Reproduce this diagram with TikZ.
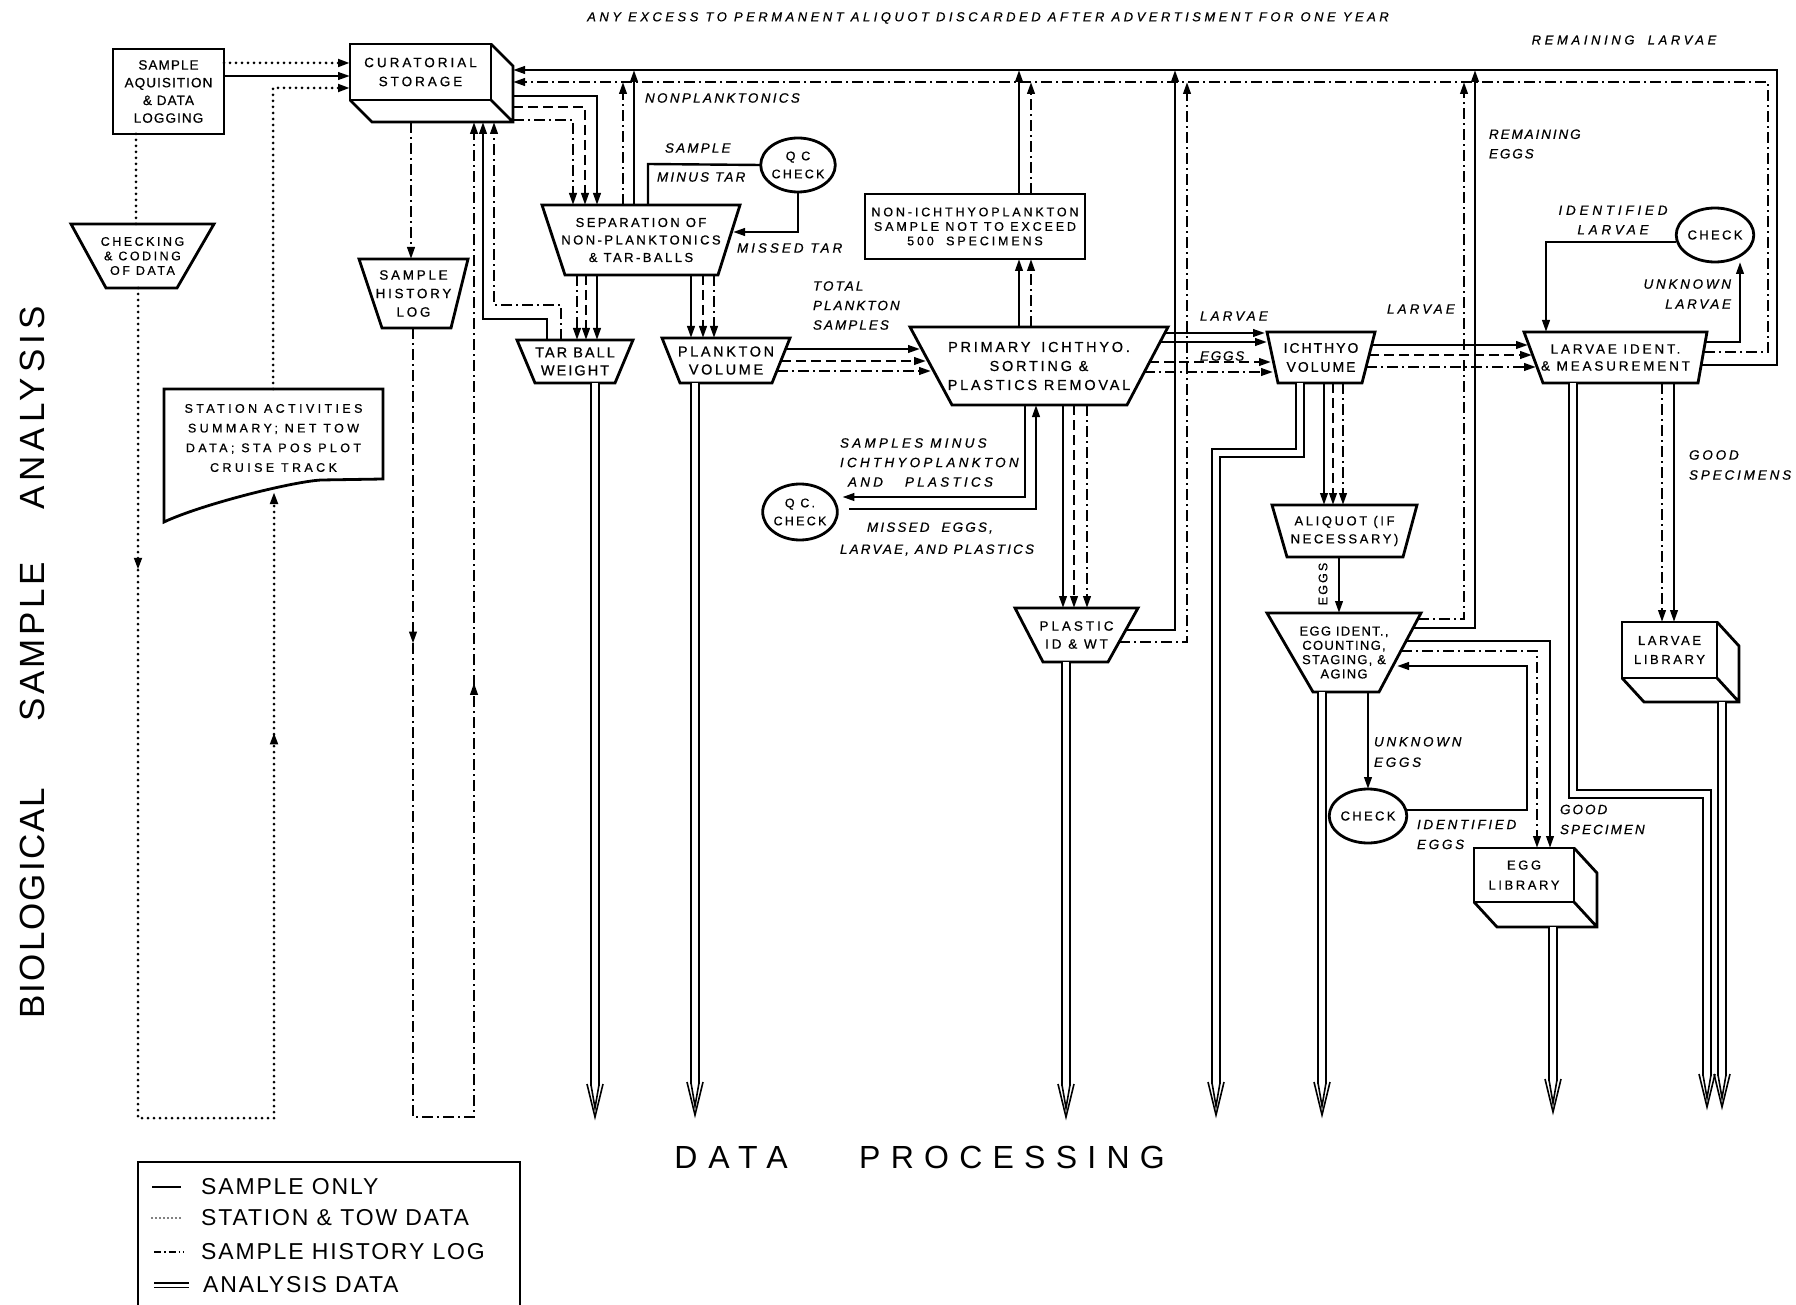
\documentclass[tikz,border=0pt]{standalone}
\usepackage{fontspec}
\setmainfont{Liberation Sans}
\newfontfamily\lfont{Liberation Sans}
\usetikzlibrary{arrows.meta,decorations.markings,shapes.geometric,calc}

% letter spacing for the stencil-like lettering
\newcommand\ls[1]{\addfontfeature{LetterSpace=#1}}
% slightly heavier stroke for the small lettering
\newcommand\lsb[1]{\addfontfeatures{LetterSpace=#1,FakeBold=0.6}}

% wide-topped process box: border drawn from the node's corners
\newcommand\trap[3]{\draw[border] (#1.north west) -- (#1.north east)
  -- ([xshift=-#3pt]#1.south east) -- ([xshift=#2pt]#1.south west) -- cycle;}
% storage block: front face is the node, depth drawn down and to the right
\newcommand\cube[3]{\draw[border] (#1.north east) -- ++(#2,#3)
  -- ([shift={(#2,#3)}]#1.south east) -- ([shift={(#2,#3)}]#1.south west)
  -- (#1.south west) (#1.south east) -- ++(#2,#3);}

\begin{document}
\begin{tikzpicture}[
  x=1pt, y=-1pt,
  every node/.style={inner sep=0pt, outer sep=0pt},
  bx/.style n args={3}{font=\lfont\fontsize{#1}{#2}\selectfont\lsb{#3}, align=center},
  fl/.style n args={3}{font=\lfont\itshape\fontsize{#1}{#2}\selectfont\lsb{#3}, align=left},
  border/.style={line width=2.8pt, line join=miter},
  smp/.style={line width=2.4pt},
  stn/.style={line width=3pt, line cap=round, dash pattern=on 0pt off 6pt},
  hst/.style={line width=2.4pt, dash pattern=on 11pt off 4pt on 2pt off 4pt},
  dsh/.style={line width=2.4pt, dash pattern=on 10pt off 5pt},
  ana/.style={line width=1.6pt, double distance=6pt},
  tip/.style={-{Triangle[length=12pt,width=7.5pt]}},
  midtip/.style={postaction={decorate, decoration={markings,
      mark=at position #1 with {\arrow{Triangle[length=12pt,width=7.5pt]}}}}},
  anahead/.pic={
    \draw[line width=1.6pt, line join=miter] (-8,-33) -- (0,0) -- (8,-33);
    \draw[line width=1.6pt] (-3.8,-31) -- (0,-9) -- (3.8,-31);
  },
]
\useasboundingbox (0,0) rectangle (1796,1305);
\fill[white] (0,0) rectangle (1796,1305);

% ---------------- boxes ----------------
\node[draw, border, bx={13.5}{17.7}{8}, minimum width=111pt, minimum height=85pt]
  (acq) at (168.5,91.5) {SAMPLE\\AQUISITION\\\& DATA\\LOGGING};

\node[draw, border, bx={13.5}{19}{22}, minimum width=141pt, minimum height=56pt]
  (cur) at (420.5,72) {CURATORIAL\\STORAGE};
\cube{cur}{22}{22}
\coordinate (cur-b) at ([shift={(22,22)}]cur.south);
\coordinate (cur-se) at ([shift={(22,22)}]cur.south east);

\node[bx={12.5}{14.5}{20}, minimum width=143pt, minimum height=64pt]
  (chk) at (142.5,256) {CHECKING\\\& CODING\\OF DATA};
\trap{chk}{35}{37}

\node[bx={13.5}{18.5}{20}, minimum width=109pt, minimum height=69pt]
  (hist) at (413.5,293.5) {SAMPLE\\HISTORY\\LOG};
\trap{hist}{23}{17}

\node[bx={12.5}{19.7}{27}, minimum width=219pt, minimum height=98pt]
  (stat) at (273.5,438) {STATION ACTIVITIES\\SUMMARY; NET TOW\\DATA; STA POS PLOT\\CRUISE TRACK};
\draw[border] (stat.north west) -- (stat.north east) -- (383,479) -- (321,480)
  .. controls (290,482) and (200,505) .. (164,522) -- cycle;
\coordinate (stat-in) at (274,492);

\node[bx={13}{17.5}{19}, minimum width=198pt, minimum height=70pt]
  (sep) at (641,240) {SEPARATION OF\\NON-PLANKTONICS\\\& TAR-BALLS};
\trap{sep}{23}{22}

\node[draw, border, ellipse, bx={12.5}{18}{18}, minimum width=72pt, minimum height=54pt]
  (qc1) at (798,165) {Q C\\CHECK};

\node[bx={14.5}{18}{14}, minimum width=116pt, minimum height=43pt]
  (tar) at (575,361.5) {TAR BALL\\WEIGHT};
\trap{tar}{18}{18}

\node[bx={14.5}{18}{18}, minimum width=128pt, minimum height=45pt]
  (plk) at (726,360.5) {PLANKTON\\VOLUME};
\trap{plk}{18}{18}

\node[draw, border, bx={12.5}{14.5}{23}, minimum width=220pt, minimum height=65pt]
  (non) at (975,226.5) {NON-ICHTHYOPLANKTON\\SAMPLE NOT TO EXCEED\\500\hspace{6pt} SPECIMENS};

\node[bx={14.5}{19}{19}, minimum width=258pt, minimum height=78pt]
  (prim) at (1039,366) {PRIMARY\hspace{4pt} ICHTHYO.\\SORTING \&\\PLASTICS REMOVAL};
\trap{prim}{42}{41}

\node[draw, border, ellipse, bx={12.5}{18}{18}, minimum width=74pt, minimum height=56pt]
  (qc2) at (800,512) {Q C.\\CHECK};

\node[bx={13.5}{18}{22}, minimum width=123pt, minimum height=54pt]
  (plas) at (1076.5,635) {PLASTIC\\ID \& WT};
\trap{plas}{28}{30}

\node[bx={14}{19}{14}, minimum width=108pt, minimum height=51pt]
  (ich) at (1321,357.5) {ICHTHYO\\VOLUME};
\trap{ich}{11}{13}

\node[bx={13.5}{17}{21}, minimum width=183pt, minimum height=51pt]
  (lar) at (1615.5,357.5) {LARVAE IDENT.\\\& MEASUREMENT};
\trap{lar}{19}{9}

\node[draw, border, ellipse, bx={13}{18}{18}, minimum width=74pt, minimum height=54pt]
  (chkL) at (1715,235) {CHECK};

\node[bx={13}{18}{20}, minimum width=145pt, minimum height=52pt]
  (ali) at (1344.5,531) {ALIQUOT (IF\\NECESSARY)};
\trap{ali}{15}{14}

\node[bx={13}{14.3}{10}, minimum width=154pt, minimum height=79pt]
  (egg) at (1344,652.5) {EGG IDENT.,\\COUNTING,\\STAGING, \&\\AGING};
\trap{egg}{46}{42}

\node[draw, border, ellipse, bx={13}{18}{18}, minimum width=74pt, minimum height=54pt]
  (chkE) at (1368,816) {CHECK};

\node[draw, border, bx={13}{19}{20}, minimum width=95pt, minimum height=56pt]
  (llib) at (1669.5,650) {LARVAE\\LIBRARY};
\cube{llib}{22}{24}
\coordinate (llib-b) at ([shift={(22,24)}]llib.south);

\node[draw, border, bx={13}{20}{20}, minimum width=100pt, minimum height=54pt]
  (elib) at (1524,875) {EGG\\LIBRARY};
\cube{elib}{23}{25}
\coordinate (elib-b) at ([shift={(23,25)}]elib.south);

% tops of the return risers on the two long lines back to storage
\coordinate (ts1) at (634,70);   \coordinate (td1) at (623,82);
\coordinate (ts2) at (1019,70);  \coordinate (td2) at (1031,82);
\coordinate (ts3) at (1175,70);  \coordinate (td3) at (1187,82);
\coordinate (ts4) at (1475,70);  \coordinate (td4) at (1464,82);

% ---------------- station & tow data ----------------
\draw[stn,tip] (acq.east |- 0,63) -- (cur.west |- 0,63);
\draw[stn,tip] (stat.north -| 273,0) -- (273,88) -- (cur.west |- 0,88);
\draw[stn] (acq.south -| 136,0) -- (chk.north -| 136,0);
\draw[stn,tip,midtip=0.177,midtip=0.849] (chk.south -| 138,0) -- (138,1118) -- (274,1118) -- (stat-in);

% ---------------- sample history log loop ----------------
\draw[hst,tip] (cur-b -| 411,0) -- (hist.north -| 411,0);
\draw[hst,tip,midtip=0.171,midtip=0.696] (hist.south -| 413,0) -- (413,1117) -- (474,1117) -- (cur-b -| 474,0);

% ---------------- storage and separation ----------------
\draw[smp,tip] (acq.east |- 0,76) -- (cur.west |- 0,76);
\draw[smp,tip] (cur-se |- 0,96) -- (597,96) -- (sep.north -| 597,0);
\draw[dsh,tip] (cur-se |- 0,107) -- (585,107) -- (sep.north -| 585,0);
\draw[hst,tip] (cur-se |- 0,120) -- (573,120) -- (sep.north -| 573,0);
\draw[smp,tip] (tar.north -| 547,0) -- (547,319) -- (483,319) -- (cur-b -| 483,0);
\draw[hst,tip] (tar.north -| 561,0) -- (561,305) -- (494,305) -- (cur-b -| 494,0);

% long return lines to storage
\draw[smp,tip] ($(lar.east |- 0,365)+(-6,0)$) -- (1777,365) -- (1777,70) -- (cur-se |- 0,70);
\draw[hst,tip] ($(lar.east |- 0,352)+(-3,0)$) -- (1768,352) -- (1768,82) -- (cur-se |- 0,82);
\draw[smp,tip] (sep.north -| ts1) -- (ts1);
\draw[hst,tip] (sep.north -| td1) -- (td1);
\draw[smp,tip] (non.north -| ts2) -- (ts2);
\draw[hst,tip] (non.north -| td2) -- (td2);
\draw[smp,tip] ($(plas.east |- 0,630)+(-12,0)$) -- (ts3 |- 0,630) -- (ts3);
\draw[hst,tip] ($(plas.east |- 0,642)+(-19,0)$) -- (td3 |- 0,642) -- (td3);
\draw[smp,tip] ($(egg.east |- 0,628)+(-8,0)$) -- (ts4 |- 0,628) -- (ts4);
\draw[hst,tip] ($(egg.east |- 0,619)+(-3,0)$) -- (td4 |- 0,619) -- (td4);

% tar check
\draw[smp] (sep.north -| 648,0) -- (648,164) -- (qc1.west);
\draw[smp,tip] (qc1.south) -- (qc1.south |- 0,232) -- ($(sep.east |- 0,232)+(-7,0)$);

% separation outputs
\draw[smp,tip] (sep.south -| 597,0) -- (tar.north -| 597,0);
\draw[dsh,tip] (sep.south -| 586,0) -- (tar.north -| 586,0);
\draw[hst,tip] (sep.south -| 577,0) -- (tar.north -| 577,0);
\draw[smp,tip] (sep.south -| 691,0) -- (plk.north -| 691,0);
\draw[dsh,tip] (sep.south -| 703,0) -- (plk.north -| 703,0);
\draw[hst,tip] (sep.south -| 714,0) -- (plk.north -| 714,0);

% plankton volume to primary sorting
\draw[smp,tip] ($(plk.east |- 0,349)+(-4,0)$) -- ($(prim.west |- 0,349)+(10,0)$);
\draw[dsh,tip] ($(plk.east |- 0,361)+(-9,0)$) -- ($(prim.west |- 0,361)+(16,0)$);
\draw[hst,tip] ($(plk.east |- 0,371)+(-13,0)$) -- ($(prim.west |- 0,371)+(21,0)$);

% primary sorting
\draw[smp,tip] (prim.north -| ts2) -- (non.south -| ts2);
\draw[hst,tip] (prim.north -| td2) -- (non.south -| td2);
\draw[smp,tip] (prim.south -| 1025,0) -- (1025,497) -- ($(qc2.east |- 0,497)+(5,0)$);
\draw[smp,tip] ($(qc2.east |- 0,509)+(12,0)$) -- (1036,509) -- (prim.south -| 1036,0);
\draw[smp,tip] (prim.south -| 1063,0) -- (plas.north -| 1063,0);
\draw[dsh,tip] (prim.south -| 1074,0) -- (plas.north -| 1074,0);
\draw[hst,tip] (prim.south -| 1087,0) -- (plas.north -| 1087,0);
\draw[smp,tip] ($(prim.east |- 0,333)+(-3,0)$) -- ($(ich.west |- 0,333)+(-2,0)$);
\draw[smp,tip] ($(prim.east |- 0,342)+(-8,0)$) -- (ich.west |- 0,342);
\draw[dsh,tip] ($(prim.east |- 0,362)+(-19,0)$) -- ($(ich.west |- 0,362)+(4,0)$);
\draw[hst,tip] ($(prim.east |- 0,372)+(-24,0)$) -- ($(ich.west |- 0,372)+(6,0)$);

% ichthyoplankton volume
\draw[smp,tip] ($(ich.east |- 0,345)+(-3,0)$) -- ($(lar.west |- 0,345)+(4,0)$);
\draw[dsh,tip] ($(ich.east |- 0,355)+(-6,0)$) -- ($(lar.west |- 0,355)+(8,0)$);
\draw[hst,tip] ($(ich.east |- 0,367)+(-9,0)$) -- ($(lar.west |- 0,367)+(12,0)$);
\draw[smp,tip] (ich.south -| 1324,0) -- (ali.north -| 1324,0);
\draw[dsh,tip] (ich.south -| 1333,0) -- (ali.north -| 1333,0);
\draw[hst,tip] (ich.south -| 1343,0) -- (ali.north -| 1343,0);

% eggs
\draw[smp,tip] (ali.south -| 1339,0) -- (egg.north -| 1339,0);
\draw[smp,tip] ($(egg.east |- 0,641)+(-15,0)$) -- (1550,641) -- (elib.north -| 1550,0);
\draw[hst,tip] ($(egg.east |- 0,651)+(-20,0)$) -- (1537,651) -- (elib.north -| 1537,0);
\draw[smp,tip] (egg.south -| chkE.north) -- (chkE.north);
\draw[smp,tip] (chkE.east |- 0,810) -- (1527,810) -- (1527,666) -- ($(egg.east |- 0,666)+(-24,0)$);

% larvae
\draw[smp,tip] ($(lar.east |- 0,342)+(-2,0)$) -- (1740,342) -- (chkL.south -| 1740,0);
\draw[smp,tip] (chkL.west |- 0,242) -- (1546,242) -- (lar.north -| 1546,0);
\draw[hst,tip] (lar.south -| 1662,0) -- (llib.north -| 1662,0);
\draw[smp,tip] (lar.south -| 1674,0) -- (llib.north -| 1674,0);

% ---------------- analysis data to processing ----------------
\draw[ana] (tar.south -| 595,0) -- (595,1086);
\pic at (595,1117) {anahead};
\draw[ana] (plk.south -| 695,0) -- (695,1084);
\pic at (695,1115) {anahead};
\draw[ana] (plas.south -| 1066,0) -- (1066,1086);
\pic at (1066,1117) {anahead};
\draw[ana] (ich.south -| 1300,0) -- (1300,453) -- (1216,453) -- (1216,1084);
\pic at (1216,1115) {anahead};
\draw[ana] (egg.south -| 1322,0) -- (1322,1084);
\pic at (1322,1115) {anahead};
\draw[ana] (elib-b -| 1553,0) -- (1553,1081);
\pic at (1553,1112) {anahead};
\draw[ana] (lar.south -| 1573,0) -- (1573,794) -- (1707,794) -- (1707,1076);
\pic at (1707,1107) {anahead};
\draw[ana] (llib-b -| 1722,0) -- (1722,1076);
\pic at (1722,1107) {anahead};

% ---------------- flow labels ----------------
\node[fl={13}{15}{27}] (l1) at (988,18) {ANY EXCESS TO PERMANENT ALIQUOT DISCARDED AFTER ADVERTISMENT FOR ONE YEAR};
\node[fl={13}{15}{28}] (l2) at (1624,40) {REMAINING\hspace{6pt} LARVAE};
\node[fl={13.5}{15}{17}, anchor=west] (l3) at (645,98) {NONPLANKTONICS};
\node[fl={13.5}{15}{16}, anchor=west] (l4) at (665,148) {SAMPLE};
\node[fl={13.5}{15}{16}, anchor=west] (l5) at (657,177) {MINUS TAR};
\node[fl={13.5}{15}{22}, anchor=west] (l6) at (737,248) {MISSED TAR};
\node[fl={13.5}{19.5}{15}, anchor=west] (l7) at (813,305.5) {TOTAL\\PLANKTON\\SAMPLES};
\node[fl={13.5}{19.5}{24}, anchor=west] (l8) at (840,462.5)
  {SAMPLES MINUS\\ICHTHYOPLANKTON\\\hspace*{8pt}AND\hspace{22pt}PLASTICS};
\node[fl={13.5}{22}{16}, anchor=west] (l9) at (840,539)
  {\hspace*{27pt}MISSED\hspace{6pt} EGGS,\\LARVAE, AND PLASTICS};
\node[fl={13.5}{15}{23}, anchor=west] (l10) at (1200,316) {LARVAE};
\node[fl={13.5}{15}{13}, anchor=west] (l11) at (1200,356) {EGGS};
\node[fl={13.5}{15}{23}, anchor=west] (l12) at (1387,309) {LARVAE};
\node[fl={13.5}{19.5}{14}, anchor=west] (l13) at (1489,144) {REMAINING\\EGGS};
\node[fl={13.5}{19.5}{28}, align=center] (l14) at (1613,220) {IDENTIFIED\\LARVAE};
\node[fl={13.5}{20}{20}, align=right, anchor=east] (l15) at (1731,294) {UNKNOWN\\LARVAE};
\node[fl={13.5}{20}{21}, anchor=west] (l16) at (1689,465) {GOOD\\SPECIMENS};
\node[font=\lfont\fontsize{12.5}{15}\selectfont\lsb{17}, rotate=90] (l17) at (1323,584) {EGGS};
\node[fl={13.5}{20.5}{20}, anchor=west] (l18) at (1374,752) {UNKNOWN\\EGGS};
\node[fl={13.5}{20}{20}, anchor=west] (l19) at (1417,834.5) {IDENTIFIED\\EGGS};
\node[fl={13.5}{20}{15}, anchor=west] (l20) at (1560,819.5) {GOOD\\SPECIMEN};

% ---------------- side headings ----------------
\node[font=\lfont\fontsize{32}{36}\selectfont\ls{34}] (h1) at (731,1157) {DATA};
\node[font=\lfont\fontsize{32}{36}\selectfont\ls{32}] (h2) at (1012,1157) {PROCESSING};
\node[font=\lfont\fontsize{35}{40}\selectfont\ls{6}, rotate=90] (v1) at (32,903) {BIOLOGICAL};
\node[font=\lfont\fontsize{35}{40}\selectfont\ls{10}, rotate=90] (v2) at (32,642) {SAMPLE};
\node[font=\lfont\fontsize{35}{40}\selectfont\ls{14}, rotate=90] (v3) at (32,408) {ANALYSIS};

% ---------------- legend ----------------
\node[draw, border, minimum width=382pt, minimum height=160pt] (key) at (329,1242) {};
\draw[smp] (152,1187) -- (181,1187);
\draw[line width=1.8pt, line cap=round, dash pattern=on 0pt off 4pt] (152,1218) -- (183,1218);
\draw[line width=2pt, dash pattern=on 7pt off 3pt on 1.5pt off 3pt] (154,1252) -- (184,1252);
\draw[line width=1.4pt, double distance=3pt] (154,1285) -- (189,1285);
\begin{scope}[every node/.style={anchor=west, inner sep=0pt, font=\lfont\fontsize{23}{26}\selectfont\ls{8}}]
\node (k1) at (201,1187) {SAMPLE ONLY};
\node (k2) at (201,1218) {STATION \& TOW DATA};
\node (k3) at (201,1252) {SAMPLE HISTORY LOG};
\node (k4) at (203,1285) {ANALYSIS DATA};
\end{scope}
\end{tikzpicture}
\end{document}
